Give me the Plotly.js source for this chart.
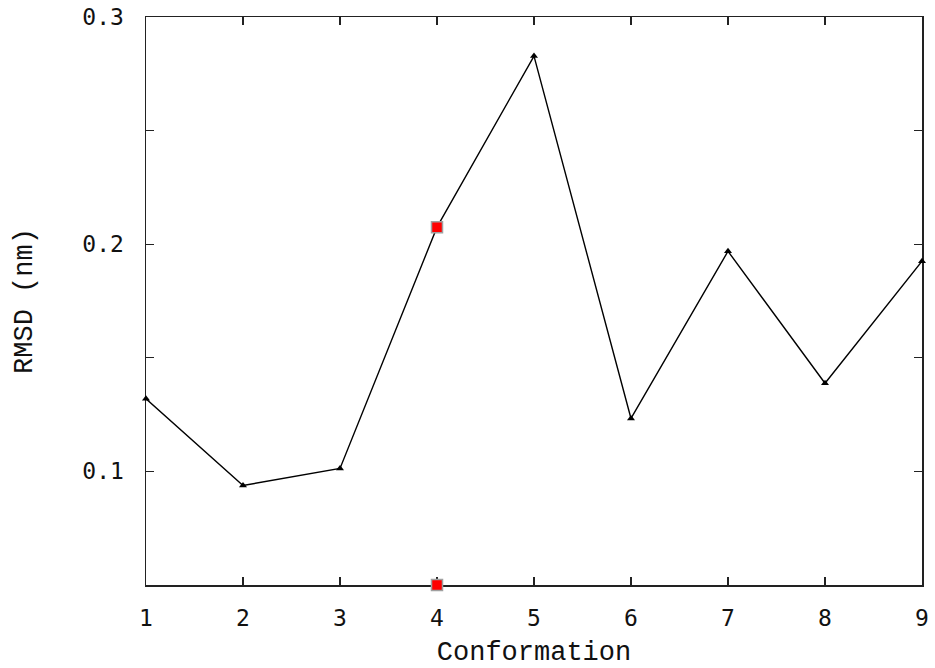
<!DOCTYPE html>
<html>
<head>
<meta charset="utf-8">
<script src="https://cdn.plot.ly/plotly-3.0.1.min.js"></script>
<style>html,body{margin:0;padding:0;background:#fff;}#chart{width:935px;height:668px;}</style>
</head>
<body>
<div id="chart"></div>
<script>
const conformations = [1, 2, 3, 4, 5, 6, 7, 8, 9];
const rmsd = [0.132, 0.0938, 0.1013, 0.2075, 0.2828, 0.1233, 0.1969, 0.1388, 0.1925];
const highlightX = [4, 4];
const highlightY = [0.2075, 0.05];
const yTickVals = [0.05, 0.1, 0.15, 0.2, 0.25, 0.3];
const yTickText = ["", "0.1", "", "0.2", "", "0.3"];
const xTickVals = [1, 2, 3, 4, 5, 6, 7, 8, 9];

const tickFont = {family: "DejaVu Sans Mono, monospace", size: 23, color: "#111"};
const titleFont = {family: "Liberation Mono, monospace", size: 27, color: "#111"};

const traces = [
  {
    x: conformations, y: rmsd, type: "scatter", mode: "lines+markers",
    line: {color: "#000", width: 1.4},
    marker: {symbol: "triangle-up", size: 7, color: "#000"},
    cliponaxis: false, showlegend: false, hoverinfo: "x+y"
  },
  {
    x: highlightX, y: highlightY, type: "scatter", mode: "markers",
    marker: {symbol: "square", size: 11, color: "#ff0000", line: {color: "#a0a0a0", width: 1.5}},
    cliponaxis: false, showlegend: false
  }
];

const axisCommon = {
  showgrid: false, zeroline: false, showline: true, linecolor: "#222", linewidth: 1.5,
  mirror: "allticks", ticks: "inside", ticklen: 8, tickwidth: 1.3, tickcolor: "#222",
  tickfont: tickFont, layer: "below traces"
};

const layout = {
  width: 935, height: 668,
  margin: {l: 146, r: 13, t: 17, b: 83},
  paper_bgcolor: "#fff", plot_bgcolor: "#fff",
  xaxis: Object.assign({}, axisCommon, {
    range: [1, 9], tickmode: "array", tickvals: xTickVals,
    ticklabelstandoff: 12,
    title: {text: "Conformation", font: titleFont, standoff: 12}
  }),
  yaxis: Object.assign({}, axisCommon, {
    range: [0.05, 0.3], tickmode: "array", tickvals: yTickVals, ticktext: yTickText,
    ticklabelstandoff: 16,
    title: {text: "RMSD (nm)", font: titleFont, standoff: 42}
  })
};

Plotly.newPlot("chart", traces, layout, {displayModeBar: false, staticPlot: true});
</script>
</body>
</html>
